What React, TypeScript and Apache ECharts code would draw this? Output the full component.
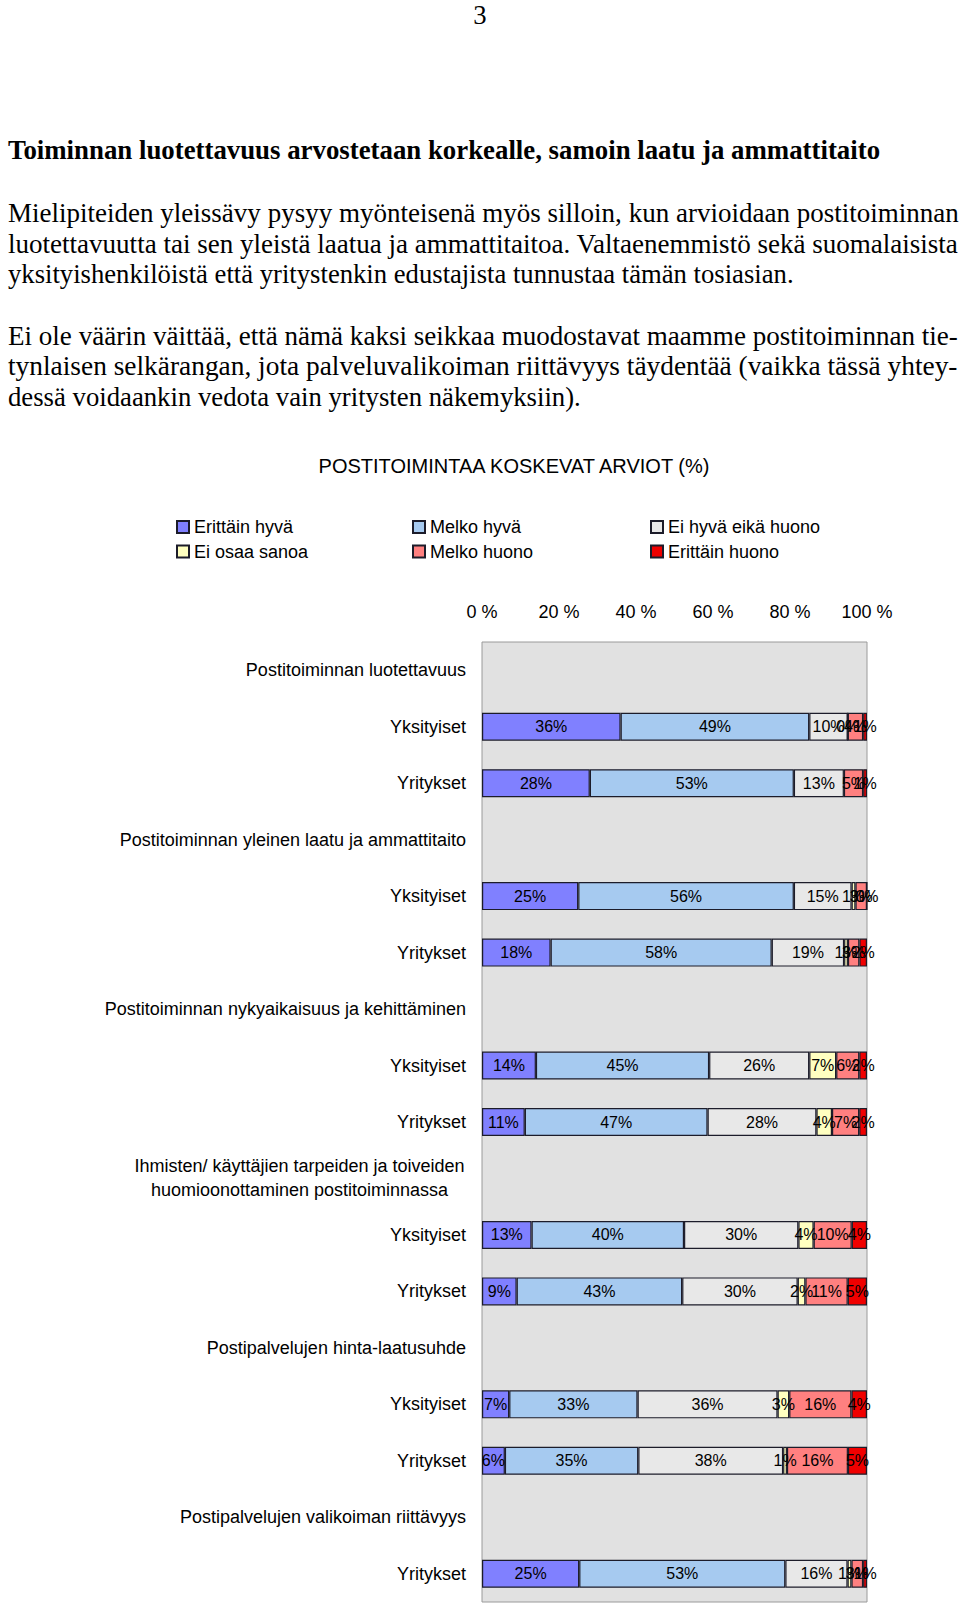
import React, { useEffect, useRef } from "react";
import * as echarts from "echarts";

// ---------- text content ----------
const pageNumber = "3";
const heading = "Toiminnan luotettavuus arvostetaan korkealle, samoin laatu ja ammattitaito";
const paragraph1 = [
  "Mielipiteiden yleissävy pysyy myönteisenä myös silloin, kun arvioidaan postitoiminnan",
  "luotettavuutta tai sen yleistä laatua ja ammattitaitoa. Valtaenemmistö sekä suomalaisista",
  "yksityishenkilöistä että yritystenkin edustajista tunnustaa tämän tosiasian.",
];
const paragraph2 = [
  "Ei ole väärin väittää, että nämä kaksi seikkaa muodostavat maamme postitoiminnan tie-",
  "tynlaisen selkärangan, jota palveluvalikoiman riittävyys täydentää (vaikka tässä yhtey-",
  "dessä voidaankin vedota vain yritysten näkemyksiin).",
];
const chartTitle = "POSTITOIMINTAA KOSKEVAT ARVIOT (%)";

// ---------- chart data ----------
const legendNames = [
  "Erittäin hyvä",
  "Melko hyvä",
  "Ei hyvä eikä huono",
  "Ei osaa sanoa",
  "Melko huono",
  "Erittäin huono",
];

const categories = [
  "Postitoiminnan luotettavuus",
  "Yksityiset",
  "Yritykset",
  "Postitoiminnan yleinen laatu ja ammattitaito",
  "Yksityiset",
  "Yritykset",
  "Postitoiminnan nykyaikaisuus ja kehittäminen",
  "Yksityiset",
  "Yritykset",
  "Ihmisten/ käyttäjien tarpeiden ja toiveiden\nhuomioonottaminen postitoiminnassa",
  "Yksityiset",
  "Yritykset",
  "Postipalvelujen hinta-laatusuhde",
  "Yksityiset",
  "Yritykset",
  "Postipalvelujen valikoiman riittävyys",
  "Yritykset",
];

const erittainHyva = [null, 36, 28, null, 25, 18, null, 14, 11, null, 13, 9, null, 7, 6, null, 25];
const melkoHyva = [null, 49, 53, null, 56, 58, null, 45, 47, null, 40, 43, null, 33, 35, null, 53];
const eiHyvaEikaHuono = [null, 10, 13, null, 15, 19, null, 26, 28, null, 30, 30, null, 36, 38, null, 16];
const eiOsaaSanoa = [null, 0, null, null, 1, 1, null, 7, 4, null, 4, 2, null, 3, 1, null, 1];
const melkoHuono = [null, 4, 5, null, 3, 3, null, 6, 7, null, 10, 11, null, 16, 16, null, 3];
const erittainHuono = [null, 1, 1, null, 0, 2, null, 2, 2, null, 4, 5, null, 4, 5, null, 1];

const xTickValues = [0, 20, 40, 60, 80, 100];

// ---------- styling ----------
const SERIF = '"Liberation Serif", "Times New Roman", serif';
const SANS = '"Liberation Sans", Arial, sans-serif';
const colors = ["#8080ff", "#a6caf0", "#e8e8e8", "#ffffc0", "#ff8080", "#f00000"];

function measure(text: string, font: string): number {
  const ctx = document.createElement("canvas").getContext("2d");
  if (!ctx) return 0;
  ctx.font = font;
  return ctx.measureText(text).width;
}

export default function App() {
  const ref = useRef<HTMLDivElement>(null);

  useEffect(() => {
    if (!ref.current) return;
    const chart = echarts.init(ref.current, null, { renderer: "svg" });

    const bodySize = 26.7;
    const leftX = 8;
    const fullWidth = 950;

    const makeLine = (text: string, y: number, bold: boolean, target: number | null) => {
      const font = `${bold ? "bold " : ""}${bodySize}px ${SERIF}`;
      const w = measure(text, font);
      const scaleX = target && w > 0 ? target / w : 1;
      return {
        type: "text",
        x: leftX,
        y,
        scaleX,
        silent: true,
        style: {
          text,
          fontSize: bodySize,
          fontFamily: SERIF,
          fontWeight: bold ? "bold" : "normal",
          fill: "#000",
          align: "left",
          verticalAlign: "middle",
        },
      };
    };

    const graphics: any[] = [];
    graphics.push({
      type: "text",
      x: 480,
      y: 15,
      silent: true,
      style: {
        text: pageNumber,
        fontSize: bodySize,
        fontFamily: SERIF,
        fill: "#000",
        align: "center",
        verticalAlign: "middle",
      },
    });
    graphics.push(makeLine(heading, 150, true, 872));
    const lineGap = 30.6;
    paragraph1.forEach((t, i) => {
      const last = i === paragraph1.length - 1;
      graphics.push(makeLine(t, 213 + i * lineGap, false, last ? 786 : fullWidth));
    });
    paragraph2.forEach((t, i) => {
      const last = i === paragraph2.length - 1;
      graphics.push(makeLine(t, 336 + i * lineGap, false, last ? 573 : fullWidth));
    });
    graphics.push({
      type: "text",
      x: 514,
      y: 466,
      silent: true,
      style: {
        text: chartTitle,
        fontSize: 20,
        fontFamily: SANS,
        fill: "#000",
        align: "center",
        verticalAlign: "middle",
      },
    });

    const rawSeries = [erittainHyva, melkoHyva, eiHyvaEikaHuono, eiOsaaSanoa, melkoHuono, erittainHuono];
    const totals = categories.map((_, i) =>
      rawSeries.reduce((s, arr) => s + ((arr[i] as number | null) ?? 0), 0)
    );

    const labelFontSize = 18;
    const multiLineWidth =
      Math.ceil(
        Math.max(
          0,
          ...categories
            .filter((c) => c.includes("\n"))
            .flatMap((c) => c.split("\n"))
            .map((l) => measure(l, `${labelFontSize}px ${SANS}`))
        )
      ) + 2;

    const legendCols = [171, 407, 645];
    const legendRows = [513, 537.5];
    const legends = legendNames.map((name, i) => ({
      left: legendCols[i % 3],
      top: legendRows[Math.floor(i / 3)],
      orient: "horizontal",
      itemWidth: 12,
      itemHeight: 12,
      itemGap: 0,
      icon: "rect",
      selectedMode: false,
      data: [name],
      textStyle: {
        fontSize: 18,
        fontFamily: SANS,
        color: "#000",
      },
    }));

    const option: any = {
      animation: false,
      backgroundColor: "#ffffff",
      textStyle: { fontFamily: SANS },
      graphic: graphics,
      legend: legends,
      grid: {
        left: 482,
        top: 642,
        width: 385,
        height: 960,
        show: true,
        backgroundColor: "#e1e1e1",
        borderColor: "#9a9a9a",
        borderWidth: 1,
        containLabel: false,
      },
      xAxis: {
        type: "value",
        position: "top",
        min: xTickValues[0],
        max: xTickValues[xTickValues.length - 1],
        interval: xTickValues[1] - xTickValues[0],
        axisLine: { show: false },
        axisTick: { show: false },
        splitLine: { show: false },
        axisLabel: {
          formatter: "{value} %",
          fontSize: 18,
          fontFamily: SANS,
          color: "#000",
          margin: 21,
        },
      },
      yAxis: {
        type: "category",
        inverse: true,
        data: categories,
        axisLine: { show: false },
        axisTick: { show: false },
        splitLine: { show: false },
        axisLabel: {
          interval: 0,
          margin: 16,
          fontSize: labelFontSize,
          fontFamily: SANS,
          color: "#000",
          formatter: (_v: string, idx: number) => {
            const c = categories[idx];
            if (c.includes("\n")) {
              return c
                .split("\n")
                .map((l) => `{c|${l}}`)
                .join("\n");
            }
            return c;
          },
          rich: {
            c: {
              width: multiLineWidth,
              align: "center",
              fontSize: labelFontSize,
              fontFamily: SANS,
              color: "#000",
              lineHeight: 24,
            },
          },
        },
      },
      series: rawSeries.map((arr, si) => ({
        name: legendNames[si],
        type: "bar",
        stack: "all",
        barWidth: 28,
        data: arr.map((v, i) => (v == null ? null : ((v as number) / totals[i]) * 100)),
        itemStyle: { color: colors[si], borderColor: "#1c1c2a", borderWidth: 1.2 },
        label: {
          show: true,
          position: "inside",
          formatter: (p: any) => {
            const v = arr[p.dataIndex];
            return v == null ? "" : `${v}%`;
          },
          color: "#000",
          fontSize: 16,
          fontFamily: SANS,
          textBorderWidth: 0,
        },
        emphasis: { disabled: true },
      })),
    };

    chart.setOption(option);
    return () => chart.dispose();
  }, []);

  return (
    <div
      ref={ref}
      style={{ position: "absolute", left: 0, top: 0, width: 960, height: 1605 }}
    />
  );
}
